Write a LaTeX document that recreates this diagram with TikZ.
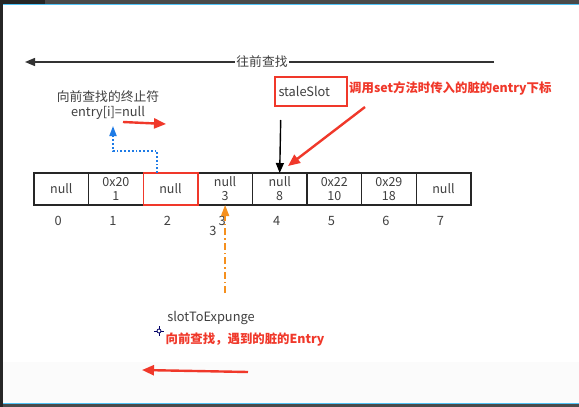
\documentclass[tikz,border=0pt]{standalone}
\usepackage{fontspec}
\setmainfont{Noto Sans CJK SC}
\usepackage{xcolor}
\usetikzlibrary{positioning, calc, arrows.meta}

\definecolor{txtgray}{HTML}{404040}
\definecolor{annred}{HTML}{F0382A}
\definecolor{dotblue}{HTML}{1E7BE6}
\definecolor{dashorange}{HTML}{F5901E}
\definecolor{framegray}{HTML}{4A4A4A}
\definecolor{frameblue}{HTML}{4FC3F7}

\begin{document}
\begin{tikzpicture}[x=1pt, y=-1pt,
        % Style definitions
        cell/.style={
            rectangle,
            draw=black!85,
            line width=1.4pt,
            minimum width=54.6pt,
            minimum height=32pt,
            inner sep=0pt,
            outer sep=0pt,
            align=center,
            text=txtgray,
            font=\fontsize{12.5}{14}\selectfont
        },
        label/.style={
            text=txtgray,
            font=\fontsize{12.8}{15}\selectfont
        },
        note/.style={
            text=annred,
            font=\fontsize{12.4}{14}\selectfont\bfseries
        },
        arrow/.style={
            -{Triangle[length=10pt, width=8pt]},
            line width=1.4pt
        },
        redarrow/.style={
            draw=annred,
            line width=2.4pt,
            -{Triangle[length=12pt, width=10pt]}
        }
    ]

        % ==========================================
        % Frame / background
        % ==========================================
        \useasboundingbox (0,0) rectangle (579,407);
        \fill[white] (0,0) rectangle (579,407);
        \fill[gray!3] (0,362) rectangle (579,403);
        \fill[framegray] (0,0) rectangle (579,4);
        \fill[black!85] (0,0) rectangle (45,4);
        \draw[frameblue, line width=1pt] (0,4.5) -- (579,4.5);
        \draw[frameblue, line width=1pt] (0,403.5) -- (579,403.5);
        \fill[framegray] (0,404) rectangle (579,407);
        \fill[black!85] (0,0) rectangle (3,407);

        % ==========================================
        % Array cells / indices
        % ==========================================
        \node (cell0) at (61.3,189) [cell] {null};
        \node (cell1) [cell, right=0pt of cell0] {0x20\\1};
        \node (cell2) [cell, right=0pt of cell1, draw=annred] {null};
        \node (cell3) [cell, right=0pt of cell2] {null\\3};
        \node (cell4) [cell, right=0pt of cell3] {null\\8};
        \node (cell5) [cell, right=0pt of cell4] {0x22\\10};
        \node (cell6) [cell, right=0pt of cell5] {0x29\\18};
        \node (cell7) [cell, right=0pt of cell6] {null};
        % redraw red border of slot 2 on top
        \draw[annred, line width=1.4pt] (cell2.south west) rectangle (cell2.north east);

        \foreach \i in {0,...,7} {
            \node (idx\i) [label, below=8pt of cell\i.south, xshift=-3pt] {\i};
        }

        % ==========================================
        % Search direction (top)
        % ==========================================
        \coordinate (topR) at (494,62);
        \coordinate (topL) at (25,62);
        \draw [arrow, draw=black!80] (topR) -- (topL);
        \node (lookback) at (262,62) [label, fill=white, inner sep=1.5pt] {往前查找};

        % Terminator of the backward search
        \node (stopnote) at (108,105.5) [label, align=center] {向前查找的终止符\\entry[i]=null};
        \coordinate (stoptip) at (113,126);
        \draw [dotblue, dotted, line width=1.8pt, -{Triangle[length=10pt, width=7pt]}]
            ([xshift=14pt]cell2.north west) -- ++(0,-22) -| (stoptip);
        \coordinate (stopS) at (123,122);
        \coordinate (stopE) at (166,124);
        \draw [redarrow] (stopS) -- (stopE);

        % ==========================================
        % staleSlot
        % ==========================================
        \node (stale) at (311,91.5) [draw=annred, line width=1.4pt, minimum width=72pt,
            minimum height=29pt, text width=65pt, inner xsep=3pt, align=left, label] {staleSlot};
        \node (stalenote) [note, right=-2pt of stale, yshift=3pt] {调用set方法时传入的脏的entry下标};
        \coordinate (staleTail) at ($(cell4.north)+(1,-53)$);
        \draw [arrow, draw=black] (staleTail) -- (cell4.north);
        \coordinate (staleS) at (365,107);
        \coordinate (staleE) at (288,166);
        \draw [redarrow] (staleS) -- (staleE);

        % ==========================================
        % slotToExpunge
        % ==========================================
        \coordinate (expTail) at ($(cell3.south)+(0,88)$);
        \draw [dashorange, dash pattern=on 7pt off 3pt on 1.5pt off 3pt, line width=1.6pt,
            -{Triangle[length=11pt, width=8pt]}] (expTail) -- (cell3.south);
        \node (expidx) at (213,231) [label] {3};
        \node (expunge) at (211,318) [label] {slotToExpunge};
        \node (expnote) at (245,340) [note] {向前查找，遇到的脏的Entry};
        \coordinate (expS) at (248,372);
        \coordinate (expE) at (142,370);
        \draw [redarrow] (expS) -- (expE);

        % small marker
        \coordinate (mark) at (159,331);
        \draw [black!60!blue, line width=0.8pt] ($(mark)+(-5,0)$) -- ($(mark)+(5,0)$)
            ($(mark)+(0,-5)$) -- ($(mark)+(0,5)$);
        \filldraw [draw=black!60!blue, fill=white, line width=0.8pt] (mark) circle (2pt);

    \end{tikzpicture}
\end{document}
